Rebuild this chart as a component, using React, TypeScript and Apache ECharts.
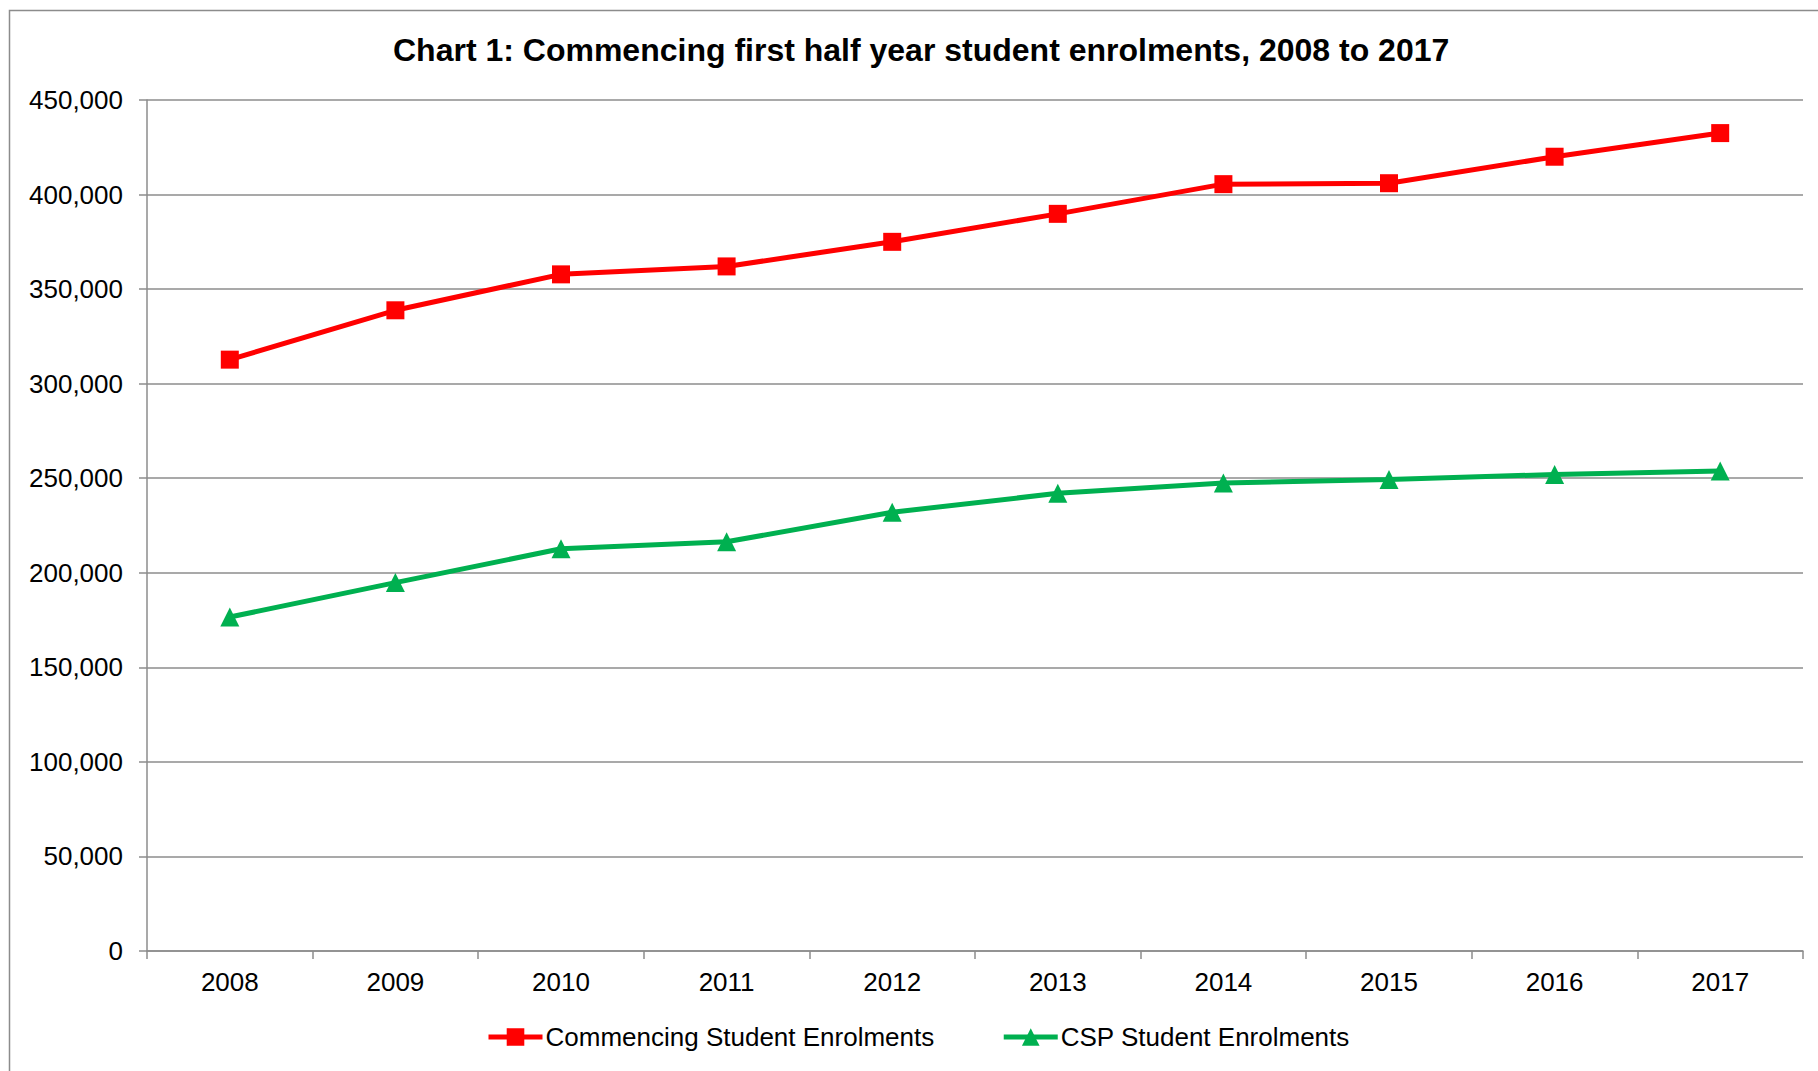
import React, { useEffect, useRef } from "react";
import * as echarts from "echarts";

const years = ["2008", "2009", "2010", "2011", "2012", "2013", "2014", "2015", "2016", "2017"];
const commencing = [312700, 338800, 357800, 362000, 375000, 389800, 405500, 406000, 420000, 432500];
const csp = [176600, 194800, 212700, 216400, 232000, 242000, 247500, 249300, 252000, 253800];
const seriesNames = ["Commencing Student Enrolments", "CSP Student Enrolments"];
const titleText = "Chart 1: Commencing first half year student enrolments, 2008 to 2017";

const FONT = "'Liberation Sans', Arial, sans-serif";

export default function App() {
  const ref = useRef<HTMLDivElement>(null);
  useEffect(() => {
    document.body.style.margin = "0";
    const chart = echarts.init(ref.current!, null, { renderer: "svg" });
    chart.setOption({
      animation: false,
      backgroundColor: "#ffffff",
      textStyle: { fontFamily: FONT },
      title: {
        text: titleText,
        left: 388,
        top: 29,
        textStyle: { fontFamily: FONT, fontWeight: "bold", fontSize: 32, color: "#000" },
      },
      graphic: [
        {
          type: "rect",
          shape: { x: 9.5, y: 10.5, width: 1830, height: 1100 },
          style: { fill: "none", stroke: "#8c8c8c", lineWidth: 1.5 },
          silent: true,
        },
      ],
      legend: {
        bottom: 16,
        left: 481,
        itemWidth: 54,
        itemHeight: 22,
        itemGap: 67,
        lineStyle: { width: 5 },
        textStyle: { fontFamily: FONT, fontSize: 26, color: "#000", padding: [0, 0, 0, -2] },
        data: seriesNames,
      },
      grid: { left: 147, right: 15, top: 100, bottom: 120, containLabel: false },
      xAxis: {
        type: "category",
        data: years,
        boundaryGap: true,
        axisLine: { lineStyle: { color: "#8c8c8c", width: 1.5 } },
        axisTick: { show: true, length: 8, inside: false, lineStyle: { color: "#8c8c8c", width: 1.5 } },
        axisLabel: { fontFamily: FONT, fontSize: 26, color: "#000", margin: 18 },
        splitLine: { show: false },
      },
      yAxis: {
        type: "value",
        min: 0,
        max: 450000,
        interval: 50000,
        axisLine: { show: true, lineStyle: { color: "#8c8c8c", width: 1.5 } },
        axisTick: { show: true, length: 8, lineStyle: { color: "#8c8c8c", width: 1.5 } },
        axisLabel: {
          fontFamily: FONT,
          fontSize: 26,
          color: "#000",
          margin: 24,
          formatter: (v: number) => v.toLocaleString("en-US"),
        },
        splitLine: { show: true, lineStyle: { color: "#8c8c8c", width: 1.5 } },
      },
      series: [
        {
          name: seriesNames[0],
          type: "line",
          data: commencing,
          symbol: "rect",
          symbolSize: 18,
          lineStyle: { color: "#ff0000", width: 5 },
          itemStyle: { color: "#ff0000" },
        },
        {
          name: seriesNames[1],
          type: "line",
          data: csp,
          symbol: "triangle",
          symbolSize: 19,
          lineStyle: { color: "#00b050", width: 5 },
          itemStyle: { color: "#00b050" },
        },
      ],
    });
    return () => chart.dispose();
  }, []);
  return (
    <div
      ref={ref}
      style={{ position: "absolute", left: 0, top: 0, width: 1818, height: 1071 }}
    />
  );
}
